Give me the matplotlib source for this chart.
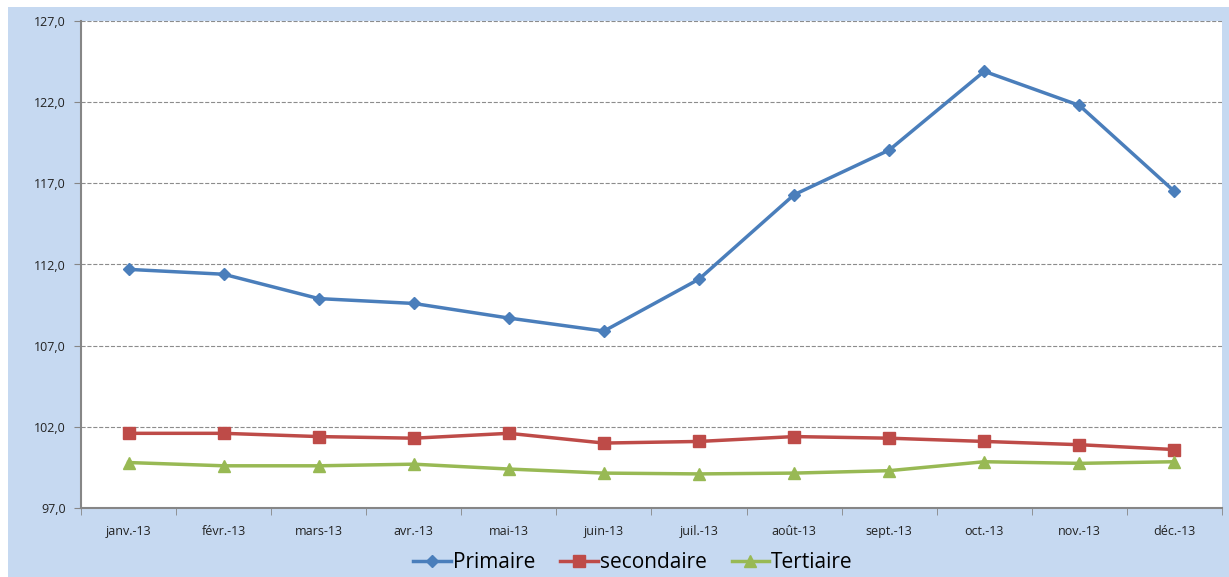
import matplotlib.pyplot as plt
from matplotlib.patches import Rectangle
import numpy as np

mois = ["janv.-13", "févr.-13", "mars-13", "avr.-13", "mai-13", "juin-13",
        "juil.-13", "août-13", "sept.-13", "oct.-13", "nov.-13", "déc.-13"]
primaire = [111.7, 111.4, 109.9, 109.6, 108.7, 107.9, 111.1, 116.3, 119.05, 123.9, 121.8, 116.5]
secondaire = [101.6, 101.6, 101.4, 101.3, 101.6, 101.0, 101.1, 101.4, 101.3, 101.1, 100.9, 100.6]
tertiaire = [99.8, 99.6, 99.6, 99.7, 99.4, 99.15, 99.1, 99.15, 99.3, 99.85, 99.75, 99.85]
yticks = [97.0, 102.0, 107.0, 112.0, 117.0, 122.0, 127.0]

plt.rcParams['font.family'] = ['Open Sans', 'DejaVu Sans']

fig = plt.figure(figsize=(12.29, 5.77), dpi=100)
fig.patch.set_facecolor("white")
# light blue chart area background
fig.patches.append(Rectangle((8 / 1229, 0), 1 - 8 / 1229, 1 - 7 / 577,
                             transform=fig.transFigure, facecolor="#C6D9F1",
                             edgecolor="none", zorder=-10))

ax = fig.add_axes([81 / 1229, 1 - 508 / 577, (1222 - 81) / 1229, (508 - 21) / 577])
ax.set_facecolor("white")

x = np.arange(len(mois))
ax.plot(x, primaire, color="#4A7EBB", lw=2.5, marker="D", ms=6, label="Primaire")
ax.plot(x, secondaire, color="#BE4B48", lw=2.5, marker="s", ms=8, label="secondaire")
ax.plot(x, tertiaire, color="#98B954", lw=2.5, marker="^", ms=8, label="Tertiaire")

ax.set_xlim(-0.5, len(mois) - 0.5)
ax.set_ylim(97, 127)
ax.set_yticks(yticks)
ax.set_yticklabels([f"{v:.1f}".replace(".", ",") for v in yticks], fontsize=9, color="#222222")
ax.set_xticks(x)
ax.set_xticklabels(mois, fontsize=9, color="#222222")
ax.set_xticks(np.arange(-0.5, len(mois)), minor=True)
ax.tick_params(axis="x", which="major", length=0, pad=12)
ax.tick_params(axis="x", which="minor", length=5, color="#868686", direction="out")
ax.tick_params(axis="y", length=5, color="#868686", direction="out", pad=6)

ax.grid(axis="y", linestyle="--", color="#8c8c8c", linewidth=0.8)
ax.set_axisbelow(True)
for side in ["top", "right"]:
    ax.spines[side].set_visible(False)
for side in ["left", "bottom"]:
    ax.spines[side].set_color("#868686")
    ax.spines[side].set_linewidth(1.5)

fig.legend(loc="center", bbox_to_anchor=(0.515, 1 - 563 / 577), ncol=3, frameon=False,
           fontsize=15, handlelength=1.8, columnspacing=1.2, handletextpad=0.1)

fig.savefig("out.png", dpi=100)
